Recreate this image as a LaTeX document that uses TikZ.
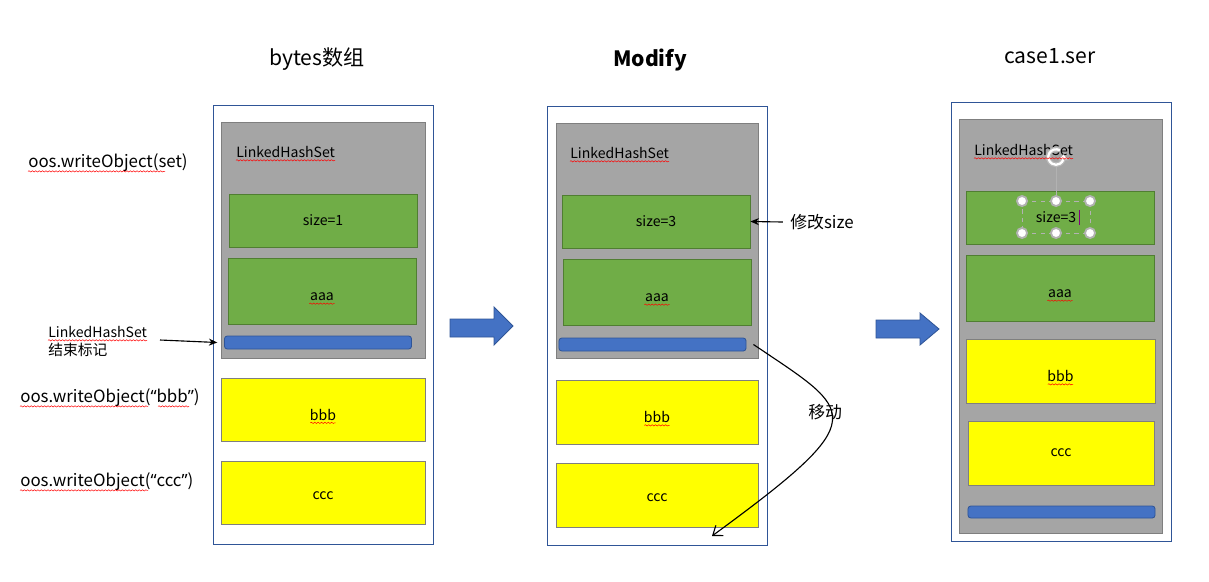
\documentclass[tikz,border=0pt]{standalone}
\usepackage{fontspec}
\setmainfont{Noto Sans CJK SC}
\newfontfamily\virgolette{Noto Sans}
\usetikzlibrary{arrows.meta,decorations.pathmorphing}
\definecolor{grigio}{HTML}{A5A5A5}
\definecolor{grigiob}{HTML}{7F7F7F}
\definecolor{verde}{HTML}{70AD47}
\definecolor{verdeb}{HTML}{507E32}
\definecolor{giallo}{HTML}{FFFF00}
\definecolor{blu}{HTML}{4472C4}
\definecolor{blub}{HTML}{2F5597}
\newcommand{\aq}{{\virgolette “}}
\newcommand{\cq}{{\virgolette ”}}
\newcommand{\giu}[2][7pt]{\raisebox{-#1}[0pt][0pt]{#2}}
\begin{document}
\begin{tikzpicture}[x=0.025cm,y=-0.025cm,
    cornice/.style={draw=blub, line width=0.6pt, inner sep=0pt, minimum width=5.5cm, minimum height=10.975cm},
    grigia/.style={draw=grigiob, fill=grigio, line width=0.6pt, inner sep=0pt},
    verdebox/.style={draw=verdeb, fill=verde, line width=0.6pt, inner sep=0pt, minimum width=4.7cm, font=\fontsize{10}{12}\selectfont},
    giallabox/.style={draw=grigiob, fill=giallo, line width=0.6pt, inner sep=0pt, minimum width=5.05cm, minimum height=1.6cm, font=\fontsize{10}{12}\selectfont},
    barra/.style={draw=blub, fill=blu, line width=0.6pt, rounded corners=2pt, inner sep=0pt, minimum width=4.675cm, minimum height=0.325cm},
    titolo/.style={font=\fontsize{15}{18}\selectfont},
    etichetta/.style={anchor=west, inner sep=0pt, font=\fontsize{12}{14}\selectfont},
    piccola/.style={anchor=west, inner sep=0pt, font=\fontsize{10}{12}\selectfont},
    typo/.style={red, line width=0.35pt, decorate, decoration={snake, amplitude=0.45pt, segment length=2.4pt}},
    freccia/.style={thick, -{Stealth[length=6pt,width=5pt]}},
    blocco/.style={draw=blub, fill=blu, line width=0.6pt}]
    \useasboundingbox (0,0) rectangle (1209,581);

    % Titoli
    \node[titolo] (t1) at (317,59) {bytes数组};
    \node[titolo, font=\fontsize{15}{18}\selectfont\bfseries] (t2) at (650,60) {Modify};
    \node[titolo] (t3) at (1050,56) {case1.ser};

    % Pannello 1: bytes
    \node[cornice] (f1) at (323,324.5) {};
    \node[grigia, minimum width=5.1cm, minimum height=5.9cm] (g1) at (323,240) {};
    \node[piccola] (lhs1) at (236,152) {LinkedHashSet};
    \node[verdebox, minimum height=1.325cm] (size1) at (323,220.5) {size=1};
    \node[verdebox, minimum height=1.65cm] (aaa1) at (322,291) {\giu{aaa}};
    \node[barra] (bar1) at (318,342.5) {};
    \node[giallabox, minimum width=5.1cm, minimum height=1.575cm] (bbb1) at (323,409.5) {\giu[7.5pt]{bbb}};
    \node[giallabox, minimum width=5.1cm, minimum height=1.575cm] (ccc1) at (323,492.5) {\giu[5pt]{ccc}};

    % Pannello 2: Modify
    \node[cornice] (f2) at (657,325.5) {};
    \node[grigia, minimum width=5.05cm, minimum height=5.875cm] (g2) at (657,240.5) {};
    \node[piccola] (lhs2) at (570,153) {LinkedHashSet};
    \node[verdebox, minimum height=1.325cm] (size2) at (656,221.5) {size=3};
    \node[verdebox, minimum height=1.65cm] (aaa2) at (657,292) {\giu{aaa}};
    \node[barra] (bar2) at (652.5,344.5) {};
    \node[giallabox] (bbb2) at (657,412) {\giu[7.5pt]{bbb}};
    \node[giallabox] (ccc2) at (657,495) {\giu[4.5pt]{ccc}};

    % Pannello 3: case1.ser
    \node[cornice] (f3) at (1061,321.5) {};
    \node[grigia, minimum width=5.075cm, minimum height=10.35cm] (g3) at (1060.5,326) {};
    \node[piccola] (lhs3) at (974,150) {LinkedHashSet};
    \node[verdebox, minimum height=1.325cm] (size3) at (1060,217.5) {\hspace*{-0.2cm}size=3};
    \node[verdebox, minimum height=1.65cm] (aaa3) at (1060,288) {\giu{aaa}};
    \node[giallabox, minimum width=4.725cm] (bbb3) at (1060.5,371) {\giu[7.5pt]{bbb}};
    \node[giallabox, minimum width=4.65cm] (ccc3) at (1061,453) {ccc};
    \node[barra, minimum height=0.3cm] (bar3) at (1061.5,512) {};

    % Selezione della casella di testo
    \draw[gray!60, dashed, thin] (1022,201) rectangle (1090,233);
    \draw[gray!60, thin] (1056,166) -- (1056,201);
    \draw[violet, thin] (1079,210) -- (1079,225);
    \foreach \hx in {1022,1056,1090}
        \foreach \hy in {201,233}
            \draw[gray!60, fill=white, line width=1.3pt] (\hx,\hy) circle[radius=3.6pt];
    \draw[gray!55, line width=3.4pt] (1056,157) ++(60:5.5pt) arc (60:345:5.5pt);
    \fill[gray!55] (1056,157) ++(345:5.5pt) ++(-3.6pt,-1pt) -- ++(7.4pt,0) -- ++(-3.7pt,4.4pt) -- cycle;
    \draw[white, line width=1.6pt] (1056,157) ++(60:5.5pt) arc (60:340:5.5pt);
    \fill[white] (1056,157) ++(345:5.5pt) ++(-2.6pt,0) -- ++(5.2pt,0) -- ++(-2.6pt,3pt) -- cycle;

    % Frecce blu tra i pannelli
    \draw[blocco] (450,319) -- (494,319) -- (494,307) -- (513,326) -- (494,345) -- (494,337) -- (450,337) -- cycle;
    \draw[blocco] (876,320) -- (920,320) -- (920,313) -- (939,329) -- (920,345) -- (920,338) -- (876,338) -- cycle;

    % Testi a sinistra
    \node[etichetta] (w1) at (28,163) {oos.writeObject(set)};
    \node[piccola] (nota) at (48,332) {LinkedHashSet};
    \node[piccola, font=\fontsize{10.5}{12}\selectfont] (notab) at (48,350) {结束标记};
    \node[etichetta] (w2) at (20,398) {oos.writeObject(\aq bbb\cq)};
    \node[etichetta] (w3) at (20,482) {oos.writeObject(\aq ccc\cq)};
    \coordinate (notafine) at (160,340);
    \draw[freccia] (notafine) -- ([xshift=-6\pgflinewidth]bar1.west);

    % Modifica e spostamento
    \node[etichetta] (modifica) at (790,222) {修改size};
    \draw[freccia] ([xshift=-5pt]modifica.west) -- (size2.east);
    \node[etichetta] (sposta) at (808,412) {移动};
    \coordinate (fine) at (712,536);
    \draw[thick, -{Straight Barb[length=6pt,width=9pt]}] ([xshift=5pt]bar2.east) .. controls (855,413) and (876,416) .. (fine);

    % Sottolineature rosse
    \foreach \n in {lhs1,lhs2,lhs3,nota}
        \draw[typo] ([yshift=-2pt]\n.base west) -- ([yshift=-2pt]\n.base east);
    \foreach \n in {aaa1,aaa2,aaa3}
        \draw[typo] ([xshift=-9pt,yshift=-9pt]\n.center) -- ([xshift=9pt,yshift=-9pt]\n.center);
    \foreach \n in {bbb1,bbb2,bbb3}
        \draw[typo] ([xshift=-9pt,yshift=-9.5pt]\n.center) -- ([xshift=9pt,yshift=-9.5pt]\n.center);
    \draw[typo] ([yshift=-2.5pt]w1.base west) -- ++(137,0);
    \draw[typo] ([yshift=-2.5pt]w2.base west) -- ++(128,0);
    \draw[typo] ([yshift=-2.5pt]w2.base west) ++(138,0) -- ++(31,0);
    \draw[typo] ([yshift=-2.5pt]w3.base west) -- ++(128,0);
\end{tikzpicture}
\end{document}
